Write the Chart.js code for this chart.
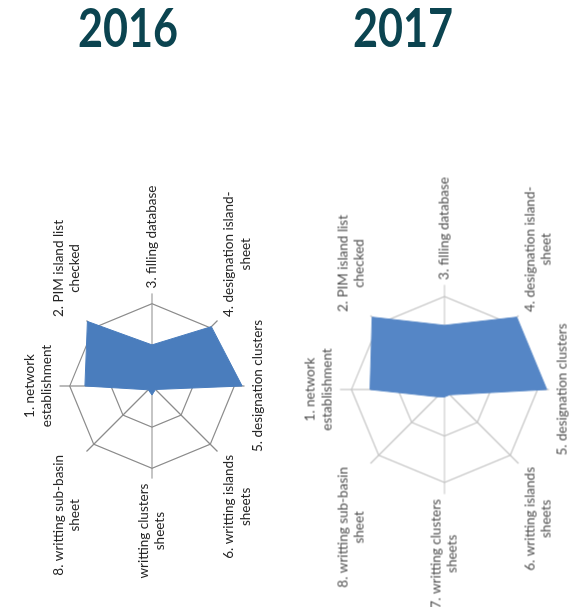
<!DOCTYPE html>
<html>
<head>
<meta charset="utf-8">
<script src="https://cdn.jsdelivr.net/npm/chart.js@4.4.1/dist/chart.umd.min.js"></script>
<style>
  html, body { margin: 0; padding: 0; background: #fff; }
  body { width: 581px; height: 607px; position: relative; overflow: hidden; }
  .year {
    position: absolute; top: 0px; width: 200px; text-align: center;
    font-family: Lato, sans-serif; font-weight: 700; font-size: 54px;
    color: #0b4450; line-height: 54px; transform: scaleX(0.8);
  }
  .box { position: absolute; transform: rotate(-90deg); }
</style>
</head>
<body>
<div class="year" style="left:28px">2016</div>
<div class="year" style="left:303px">2017</div>
<div class="box" id="box1" style="left:-76px; top:252px; width:440px; height:260px;"><canvas id="c1"></canvas></div>
<div class="box" id="box2" style="left:207px; top:250px; width:460px; height:285px;"><canvas id="c2"></canvas></div>
<script>
// axis names, same order for both years (first one sits on top before the box is turned)
let labels16 = [
  ['1. network', 'establishment'],
  ['2. PIM island list', 'checked'],
  '3. filling database',
  ['4. designation island-', 'sheet'],
  '5. designation clusters',
  ['6. writting islands', 'sheets'],
  ['writting clusters', 'sheets'],
  ['8. writting sub-basin', 'sheet']
]
let labels17 = [
  ['1. network', 'establishment'],
  ['2. PIM island list', 'checked'],
  '3. filling database',
  ['4. designation island-', 'sheet'],
  '5. designation clusters',
  ['6. writting islands', 'sheets'],
  ['7. writting clusters', 'sheets'],
  ['8. writting sub-basin', 'sheet']
]

let values16 = [1.63, 2.22, 1.0, 2.04, 2.19, 0.12, 0.22, 0.13]
let values17 = [1.6, 2.2, 1.38, 2.2, 2.2, 0.16, 0.16, 0.22]

let scaleMax = 2.25
let ringStep = 1

// chart.js lays the point labels out (hidden), this redraws them with centred lines
const centredLabels = {
  id: 'centredLabels',
  afterDraw(chart, args, opts) {
    const scale = chart.scales.r
    const items = scale._pointLabelItems || []
    const font = Chart.helpers.toFont(scale.options.pointLabels.font)
    const ctx = chart.ctx
    ctx.save()
    ctx.font = font.string
    ctx.fillStyle = opts.color
    ctx.textAlign = 'center'
    ctx.textBaseline = 'middle'
    items.forEach((item, i) => {
      let lines = scale._pointLabels[i]
      if (!Array.isArray(lines)) lines = [lines]
      const x = (item.left + item.right) / 2
      lines.forEach((line, k) => {
        ctx.fillText(line, x, item.top + font.lineHeight * (k + 0.5))
      })
    })
    ctx.restore()
  }
}

function radarChart(id, labels, values, fill, grid, text){
  return new Chart(document.getElementById(id), {
    type: 'radar',
    data: {
      labels: labels,
      datasets: [{
        data: values,
        backgroundColor: fill,
        borderColor: fill,
        borderWidth: 1,
        pointRadius: 0,
        fill: true
      }]
    },
    plugins: [centredLabels],
    options: {
      responsive: true,
      maintainAspectRatio: false,
      animation: false,
      plugins: {
        legend: { display: false },
        tooltip: { enabled: false },
        centredLabels: { color: text }
      },
      scales: {
        r: {
          z: 1,
          min: 0,
          max: scaleMax,
          ticks: { display: false, stepSize: ringStep },
          grid: {
            // no ring at the very end of the axis
            color: c => (c.tick && c.tick.value >= scaleMax) ? 'rgba(0,0,0,0)' : grid,
            lineWidth: 1.2
          },
          angleLines: { color: grid, lineWidth: 1.2 },
          pointLabels: {
            color: 'rgba(0,0,0,0)',
            padding: 5,
            font: { family: 'Lato', size: 13.5 }
          }
        }
      }
    }
  })
}

radarChart('c1', labels16, values16, '#4a7dbd', '#8c8c8c', '#262626')
radarChart('c2', labels17, values17, '#5586c6', '#c4c4c4', '#505050')
</script>
</body>
</html>
